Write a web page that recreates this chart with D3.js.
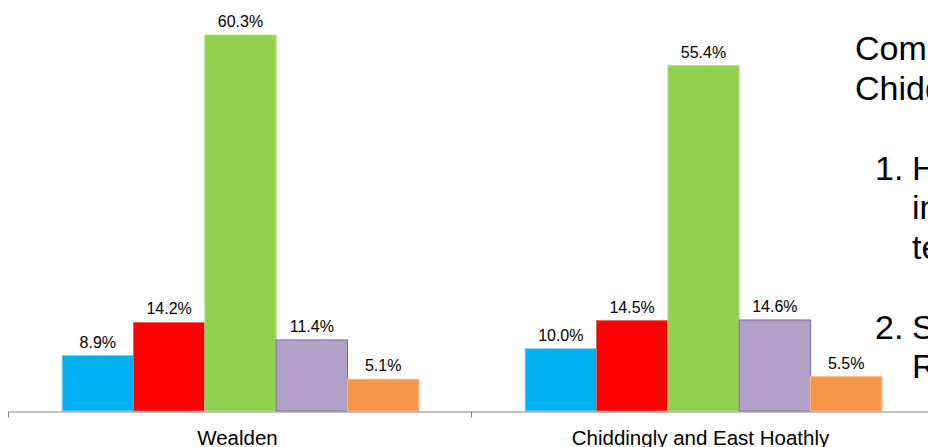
<!DOCTYPE html>
<html>
<head>
<meta charset="utf-8">
<script src="https://cdn.jsdelivr.net/npm/d3@7"></script>
<style>
html,body{margin:0;padding:0;background:#fff;overflow:hidden;}
svg{display:block;font-family:"Liberation Sans",Arial,sans-serif;}
</style>
</head>
<body>
<svg id="chart" width="928" height="447"></svg>
<script>
const categories = ["Wealden", "Chiddingly and East Hoathly"];
const seriesNames = ["s1", "s2", "s3", "s4", "s5"];
const wealdenValues = [8.9, 14.2, 60.3, 11.4, 5.1];
const chiddinglyValues = [10.0, 14.5, 55.4, 14.6, 5.5];
const seriesColors = ["#00B0F0", "#FF0000", "#92D050", "#B1A0C7", "#F79646"];
const seriesStrokes = ["#9cc9e4", "#e06666", "#b8df8e", "#8064A2", "#f9b98a"];
const sideText = [
  {text: "Com", x: 855, y: 60},
  {text: "Chidd", x: 855, y: 100},
  {text: "1.", x: 875, y: 180},
  {text: "Hi", x: 912, y: 180},
  {text: "in", x: 912, y: 219},
  {text: "te", x: 912, y: 259},
  {text: "2.", x: 875, y: 339},
  {text: "Sm", x: 912, y: 339},
  {text: "R", x: 912, y: 378}
];

const rows = categories.map((c, i) => ({
  cat: c,
  values: (i === 0 ? wealdenValues : chiddinglyValues).map((v, j) => ({key: seriesNames[j], idx: j, v}))
}));

const svg = d3.select("#chart");
const baseY = 411;
const y = d3.scaleLinear().domain([0, 70]).range([baseY, baseY - 70 * 6.235]);
const x0 = d3.scaleBand().domain(categories).range([8, 934]).paddingInner(0).paddingOuter(0);
const x1 = d3.scaleBand().domain(seriesNames).range([0, x0.bandwidth()]).paddingInner(0).paddingOuter(0.745);

const g = svg.append("g");
const groups = g.selectAll("g.cat").data(rows).join("g")
  .attr("transform", d => `translate(${x0(d.cat) + 1},0)`);

groups.selectAll("rect").data(d => d.values).join("rect")
  .attr("x", d => x1(d.key))
  .attr("y", d => y(d.v))
  .attr("width", x1.bandwidth())
  .attr("height", d => y(0) - y(d.v))
  .attr("fill", d => seriesColors[d.idx])
  .attr("stroke", d => seriesStrokes[d.idx])
  .attr("stroke-width", 1);

groups.selectAll("text").data(d => d.values).join("text")
  .attr("x", d => x1(d.key) + x1.bandwidth() / 2)
  .attr("y", d => y(d.v) - 8)
  .attr("text-anchor", "middle")
  .attr("font-size", "16px")
  .attr("fill", "#000")
  .text(d => d.v.toFixed(1) + "%");

// axis
const axis = d3.axisBottom(x0).tickSize(6).tickSizeOuter(0).tickFormat("");
const ax = svg.append("g").attr("transform", `translate(0,${baseY + 0.5})`).call(axis);
ax.select(".domain").attr("stroke", "#868686");
ax.selectAll(".tick").remove();
ax.selectAll("line.bnd").data(categories).join("line")
  .attr("class", "bnd")
  .attr("x1", d => Math.round(x0(d)) + 0.5).attr("x2", d => Math.round(x0(d)) + 0.5)
  .attr("y1", 0).attr("y2", 6)
  .attr("stroke", "#868686");
ax.selectAll("text.cat").data(categories).join("text")
  .attr("class", "cat")
  .attr("x", d => x0(d) + x0.bandwidth() / 2 - 2)
  .attr("y", 33)
  .attr("text-anchor", "middle")
  .attr("font-size", "20.5px")
  .attr("fill", "#000")
  .text(d => d);

svg.append("g").selectAll("text").data(sideText).join("text")
  .attr("x", d => d.x).attr("y", d => d.y)
  .attr("font-size", "34px")
  .attr("fill", "#000")
  .text(d => d.text);
</script>
</body>
</html>
